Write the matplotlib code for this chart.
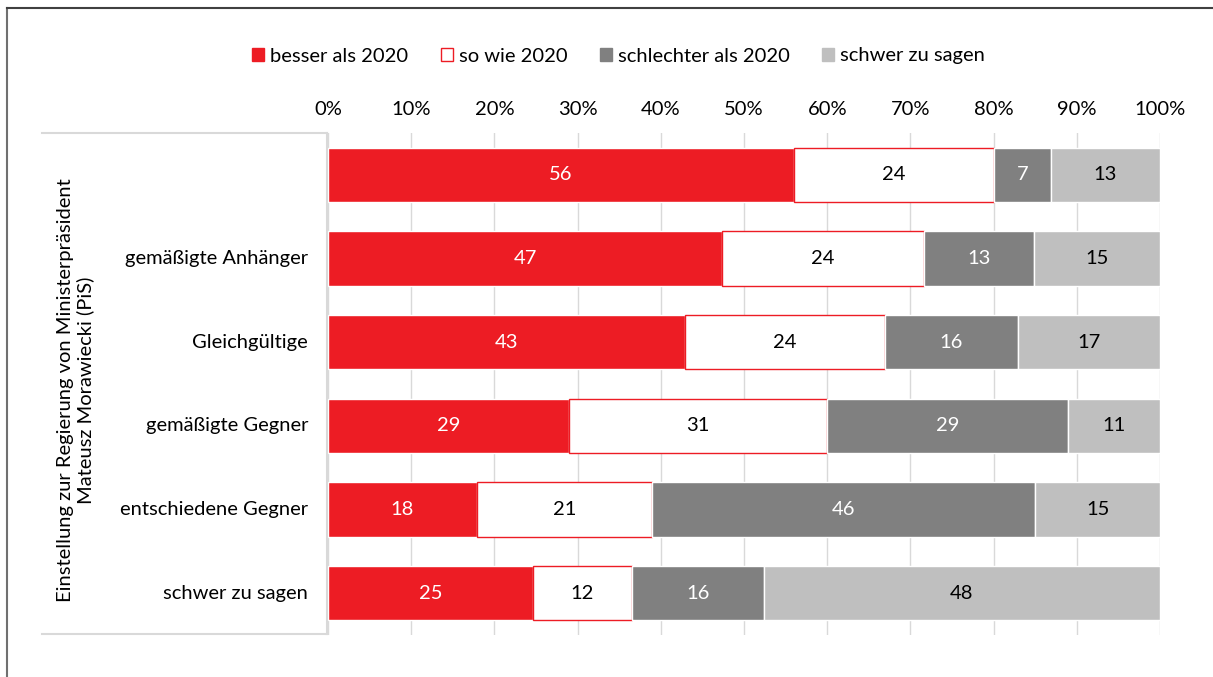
import matplotlib.pyplot as plt
from matplotlib.lines import Line2D
from matplotlib.patches import Patch

plt.rcParams['font.family'] = ['Lato', 'DejaVu Sans']

# Daten (Anteile in %, Beschriftung gerundet)
kategorien = ['', 'gemäßigte Anhänger', 'Gleichgültige', 'gemäßigte Gegner',
              'entschiedene Gegner', 'schwer zu sagen']
besser = [56.0, 47.4, 42.9, 29.0, 17.9, 24.6]
so_wie = [24.0, 24.2, 24.0, 31.0, 21.0, 11.9]
schlechter = [6.9, 13.3, 16.0, 28.9, 46.1, 15.9]
schwer = [13.1, 15.1, 17.1, 11.1, 15.0, 47.6]
serien_namen = ['besser als 2020', 'so wie 2020', 'schlechter als 2020', 'schwer zu sagen']
xticks = [0, 10, 20, 30, 40, 50, 60, 70, 80, 90, 100]

rot = '#ED1C24'
dunkelgrau = '#808080'
hellgrau = '#BFBFBF'
fs = 14.5

fig = plt.figure(figsize=(12.13, 6.77), dpi=100)
ax = fig.add_axes([0.2704, 0.062, 0.6859, 0.7415])

y = list(range(len(kategorien)))
h = 0.65
links = [0] * len(y)
serien = [besser, so_wie, schlechter, schwer]
farben = [rot, 'white', dunkelgrau, hellgrau]
kanten = ['white', rot, 'white', 'white']
textfarben = ['white', 'black', 'white', 'black']
for werte, fc, ec, tc in zip(serien, farben, kanten, textfarben):
	ax.barh(y, werte, left=links, height=h, color=fc, edgecolor=ec, linewidth=1, zorder=3)
	for i, w in enumerate(werte):
		ax.text(links[i] + w / 2, y[i], str(round(w)), ha='center', va='center',
				color=tc, fontsize=fs, zorder=4)
	links = [a + b for a, b in zip(links, werte)]

ax.set_xlim(0, 100)
ax.set_ylim(len(y) - 0.5, -0.5)
ax.set_xticks(xticks)
ax.set_xticklabels([f'{t}%' for t in xticks], fontsize=fs)
ax.xaxis.tick_top()
ax.tick_params(axis='x', length=0, pad=11)
ax.set_yticks([])
ax.grid(axis='x', color='#D9D9D9', linewidth=1, zorder=0)
for s in ax.spines.values():
	s.set_visible(False)

# Kategorie-Beschriftungen
for i, k in enumerate(kategorien):
	ax.text(-0.024, y[i], k, transform=ax.get_yaxis_transform(), ha='right',
			va='center', fontsize=fs)

# Rahmen um Beschriftungsbereich
gr = '#D9D9D9'
fig.add_artist(Line2D([42 / 1213, 327 / 1213], [1 - 133 / 677] * 2, color=gr, lw=1.5))
fig.add_artist(Line2D([42 / 1213, 327 / 1213], [1 - 634 / 677] * 2, color=gr, lw=1.5))
fig.add_artist(Line2D([327 / 1213] * 2, [1 - 133 / 677, 1 - 634 / 677], color=gr, lw=1.5))

fig.text(76 / 1213, 1 - 390 / 677,
		 'Einstellung zur Regierung von Ministerpräsident\nMateusz Morawiecki (PiS)',
		 rotation=90, ha='center', va='center', fontsize=fs, linespacing=1.15)

# äußerer Rahmen links und oben
fig.add_artist(Line2D([7 / 1213] * 2, [0, 1 - 8 / 677], color='#707070', lw=1.5))
fig.add_artist(Line2D([7 / 1213, 1], [1 - 8 / 677] * 2, color='#404040', lw=1.5))

handles = [Patch(facecolor=fc, edgecolor=ec) for fc, ec in
		   zip(farben, [rot, rot, dunkelgrau, hellgrau])]
fig.legend(handles, serien_namen, loc='center', bbox_to_anchor=(0.51, 1 - 56 / 677),
		   ncol=4, frameon=False, fontsize=fs, handlelength=0.6, handleheight=0.6,
		   handletextpad=0.3, columnspacing=1.6)

fig.savefig('out.png', dpi=100)
